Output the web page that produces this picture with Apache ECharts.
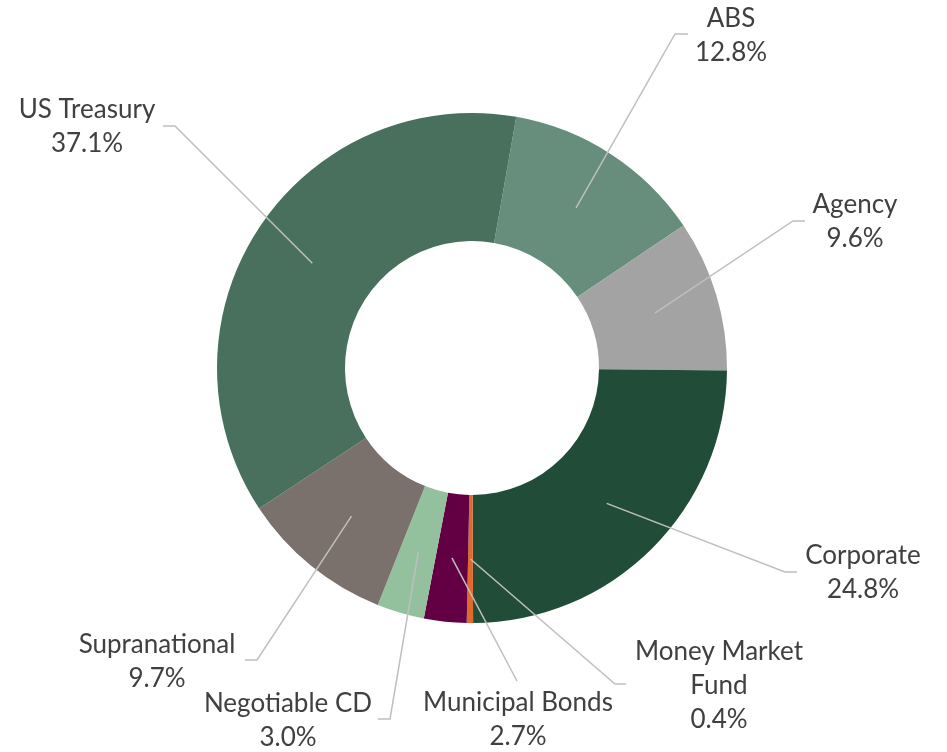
<!DOCTYPE html>
<html>
<head>
<meta charset="utf-8">
<script src="https://cdn.jsdelivr.net/npm/echarts@6/dist/echarts.min.js"></script>
<style>
html, body { margin: 0; padding: 0; background: #ffffff; }
#chart { width: 947px; height: 752px; }
</style>
</head>
<body>
<div id="chart"></div>
<script>
// ---- data ----
const categories = ['ABS', 'Agency', 'Corporate', 'Money Market Fund', 'Municipal Bonds', 'Negotiable CD', 'Supranational', 'US Treasury'];
const values = [12.8, 9.6, 24.8, 0.4, 2.7, 3.0, 9.7, 37.1];

// ---- styling / layout ----
const colors = ['#678E7C', '#A3A3A3', '#214C37', '#E06A2E', '#630043', '#93C09D', '#7A716D', '#48705C'];
const CENTER = [472, 368];
const R_IN = 127, R_OUT = 255;
const labelPos = [[731, 36], [855, 222], [863, 573], [719, 686], [518, 720], [288, 721], [157, 662], [87, 127]];
const elbowPos = [[675, 34], [793, 221], [785, 572], [615, 684], [517, 681], [390, 719], [257, 660], [175, 126]];
const endPos   = [[688, 34], [805, 221], [797, 572], [626, 684], [517, 681], [378, 719], [245, 660], [163, 126]];
const wrapNames = { 'Money Market Fund': 'Money Market\nFund' };

const chart = echarts.init(document.getElementById('chart'), null, { renderer: 'canvas' });

const baseSeries = {
  type: 'pie',
  center: CENTER,
  radius: [R_IN, R_OUT],
  startAngle: 80,
  clockwise: true,
  avoidLabelOverlap: false,
  emphasis: { disabled: true },
  silent: true
};

const option = {
  animation: false,
  backgroundColor: '#ffffff',
  series: [
    Object.assign({}, baseSeries, {
      z: 2,
      itemStyle: { borderWidth: 0 },
      data: categories.map((c, i) => ({ name: c, value: values[i], itemStyle: { color: colors[i] } })),
      label: { show: false },
      labelLine: { show: false }
    }),
    Object.assign({}, baseSeries, {
      z: 5,
      itemStyle: { borderWidth: 0, color: 'rgba(0,0,0,0)' },
      data: categories.map((c, i) => ({ name: c, value: values[i] })),
      label: {
        show: true,
        position: 'outside',
        fontFamily: 'Lato',
        fontSize: 26,
        lineHeight: 34,
        color: '#404040',
        formatter: function (p) {
          return (wrapNames[p.name] || p.name) + '\n' + p.value.toFixed(1) + '%';
        }
      },
      labelLine: {
        show: true,
        length: 10,
        length2: 10,
        lineStyle: { color: '#BFBFBF', width: 1.5 }
      },
      labelLayout: function (params) {
        const i = params.dataIndex;
        const pts = params.labelLinePoints;
        let start = elbowPos[i];
        if (pts && pts.length) {
          const dx = pts[0][0] - CENTER[0];
          const dy = pts[0][1] - CENTER[1];
          const d = Math.sqrt(dx * dx + dy * dy) || 1;
          const rm = (R_IN + R_OUT) / 2;
          start = [CENTER[0] + dx / d * rm, CENTER[1] + dy / d * rm];
        }
        return {
          x: labelPos[i][0],
          y: labelPos[i][1],
          align: 'center',
          verticalAlign: 'middle',
          labelLinePoints: [start, elbowPos[i], endPos[i]]
        };
      }
    })
  ]
};

chart.setOption(option);
</script>
</body>
</html>
